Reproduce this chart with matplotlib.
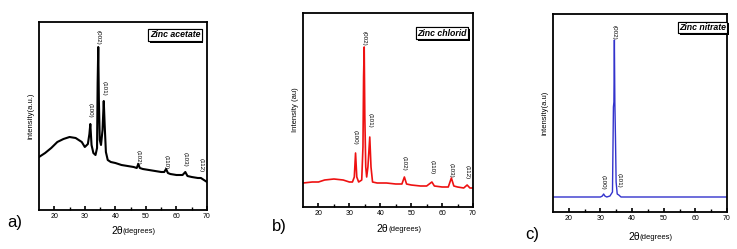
import matplotlib
matplotlib.use("Agg")
import matplotlib.pyplot as plt
import matplotlib.patheffects as pe

plt.rcParams['font.family'] = ['Liberation Sans', 'DejaVu Sans']

# ---------------- data ----------------
# a) Zinc acetate
a_theta = [15, 17, 19, 21, 23, 25, 27, 29, 30, 31, 31.5, 31.8, 32.2, 32.8, 33.5, 34.0,
           34.2, 34.4, 34.6, 34.9, 35.3, 35.8, 36.2, 36.5, 36.9, 37.5, 38.5, 40, 42, 44,
           46, 47, 47.5, 48, 49, 51, 53, 55, 56, 56.6, 57.2, 58, 60, 62, 62.9, 63.6, 65,
           67, 68, 69, 70]
a_int = [53, 57, 62, 68, 71, 73, 72, 68, 63, 66, 76, 86, 65, 57, 55, 62,
         127, 163, 110, 70, 65, 80, 109, 85, 58, 50, 48, 47, 45, 44,
         43, 42, 46, 42, 41, 40, 39, 38, 38, 41, 37, 36, 35, 35, 38, 34, 33,
         32, 32, 30, 28]

# b) Zinc chlorid
b_theta = [15, 18, 20, 22, 25, 28, 30, 31, 31.6, 32.0, 32.4, 33, 34.0, 34.4, 34.6, 34.8,
           35.0, 35.3, 35.6, 36.0, 36.6, 37.0, 37.5, 39, 42, 45, 47, 47.8, 48.5, 50, 53,
           55, 56.7, 57.5, 60, 62, 63.0, 63.8, 65, 67, 68.1, 69, 70]
b_int = [24, 25, 25, 27, 28, 27, 25, 25, 30, 54, 30, 25, 27, 60, 130, 160,
         90, 40, 30, 40, 70, 40, 25, 24, 24, 23, 23, 30, 23, 22, 21,
         21, 25, 21, 20, 20, 29, 21, 20, 19, 22, 19, 19]

# c) Zinc nitrate
c_theta = [15, 20, 25, 30, 30.6, 31.0, 31.4, 32, 33, 33.8, 34.1, 34.25, 34.4, 34.55,
           34.75, 34.95, 35.3, 35.8, 36.5, 38, 40, 45, 50, 55, 60, 65, 70]
c_int = [15, 15, 15, 15, 16, 18, 16, 15, 16, 20, 105, 110, 172, 110,
         74, 30, 18, 17, 15, 15, 15, 15, 15, 15, 15, 15, 15]

a_peaks = ["(100)", "(002)", "(101)", "(102)", "(110)", "(103)", "(112)"]
a_peak_x = [31.8, 34.4, 36.3, 47.5, 56.6, 62.9, 68.0]
a_peak_y = [100, 173, 122, 53, 48, 51, 45]

b_peaks = ["(100)", "(002)", "(101)", "(102)", "(110)", "(103)", "(112)"]
b_peak_x = [32.0, 34.8, 36.6, 47.8, 56.7, 63.0, 68.0]
b_peak_y = [70, 169, 87, 44, 40, 37, 35]

c_peaks = ["(100)", "(002)", "(101)"]
c_peak_x = [30.8, 34.3, 35.9]
c_peak_y = [30, 180, 32]

xticks = [20, 30, 40, 50, 60, 70]

# ---------------- figure ----------------
W, H = 737, 249
fig = plt.figure(figsize=(W / 100, H / 100), dpi=100)


def px_axes(l, r, t, b):
    return fig.add_axes([l / W, 1 - b / H, (r - l) / W, (b - t) / H])


def style(ax, ymax):
    ax.set_xlim(15, 70)
    ax.set_ylim(0, ymax)
    ax.set_yticks([])
    ax.set_xticks(xticks)
    ax.set_xticks([25, 35, 45, 55, 65], minor=True)
    ax.tick_params(axis='x', which='major', direction='in', length=3, width=1.2,
                   labelsize=5, pad=2)
    ax.tick_params(axis='x', which='minor', direction='in', length=2, width=1.0)
    for s in ax.spines.values():
        s.set_linewidth(1.3)


def legend_box(ax, x, y, text):
    t = ax.text(x, y, text, transform=ax.transAxes, color='black', ha='right', va='top',
                fontsize=6.3, style='italic', fontweight='bold',
                bbox=dict(boxstyle='square,pad=0.15', fc='white', ec='black', lw=0.8),
                zorder=6)
    t.get_bbox_patch().set_path_effects(
        [pe.withSimplePatchShadow(offset=(1.3, -1.3), shadow_rgbFace='black', alpha=1.0),
         pe.Normal()])


# panel a
axa = px_axes(39, 207, 22, 210)
axa.plot(a_theta, a_int, color='black', lw=1.5)
style(axa, 188)
for lab, x, y in zip(a_peaks, a_peak_x, a_peak_y):
    axa.text(x, y, lab, rotation=270, ha='center', va='center', fontsize=4.5)
legend_box(axa, 0.96, 0.955, "Zinc acetate")
axa.set_ylabel("intensity(a.u.)", fontsize=5.5, labelpad=3)

# panel b
axb = px_axes(303, 473, 13, 207)
axb.plot(b_theta, b_int, color='#ee1111', lw=1.2)
style(axb, 194)
for lab, x, y in zip(b_peaks, b_peak_x, b_peak_y):
    axb.text(x, y, lab, rotation=270, ha='center', va='center', fontsize=4.5)
legend_box(axb, 0.965, 0.92, "Zinc chlorid")
axb.set_ylabel("Intensity (au)", fontsize=5.5, labelpad=3)

# panel c
axc = px_axes(553, 727, 14, 212)
axc.plot(c_theta, c_int, color='#3333cc', lw=1.0)
style(axc, 198)
for lab, x, y in zip(c_peaks, c_peak_x, c_peak_y):
    axc.text(x, y, lab, rotation=270, ha='center', va='center', fontsize=4.5)
legend_box(axc, 0.995, 0.955, "Zinc nitrate")
axc.set_ylabel("intensity(a.u)", fontsize=5.5, labelpad=3)

# x labels
for ax, yp in [(axa, 231), (axb, 229), (axc, 237)]:
    x0 = ax.get_position().x0 + ax.get_position().width / 2
    fig.text(x0, 1 - yp / H, "2θ", ha='right', va='center', fontsize=7.5)
    fig.text(x0, 1 - yp / H, "(degrees)", ha='left', va='center', fontsize=5.5)

# panel letters
fig.text(7 / W, 1 - 222 / H, "a)", fontsize=12, va='center', ha='left')
fig.text(272 / W, 1 - 226 / H, "b)", fontsize=12, va='center', ha='left')
fig.text(525 / W, 1 - 234 / H, "c)", fontsize=12, va='center', ha='left')

fig.savefig("out.png", dpi=100)
